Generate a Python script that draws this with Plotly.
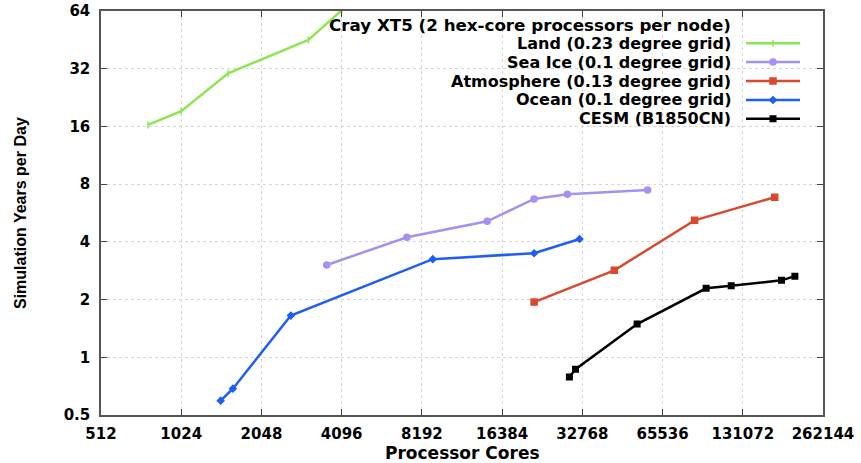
import plotly.graph_objects as go
import math

# ---- data ----
land_x = [768, 1024, 1536, 3072, 4096]
land_y = [16.3, 19.2, 30.3, 45.2, 64.5]

seaice_x = [3600, 7200, 14400, 21600, 28800, 57600]
seaice_y = [3.03, 4.23, 5.12, 6.7, 7.09, 7.46]

atm_x = [21600, 43200, 86400, 172800]
atm_y = [1.94, 2.84, 5.18, 6.84]

ocean_x = [1440, 1600, 2640, 9000, 21600, 32000]
ocean_y = [0.594, 0.686, 1.65, 3.25, 3.49, 4.14]

cesm_x = [29300, 30900, 52600, 95500, 118600, 183200, 205600]
cesm_y = [0.79, 0.866, 1.49, 2.29, 2.36, 2.52, 2.65]

x_ticks = [512, 1024, 2048, 4096, 8192, 16384, 32768, 65536, 131072, 262144]
y_ticks = [0.5, 1, 2, 4, 8, 16, 32, 64]
y_ticktext = ["0.5", "1", "2", "4", "8", "16", "32", "64"]

legend_title = "Cray XT5 (2 hex-core processors per node)"
series = [
    ("Land (0.23 degree grid)", land_x, land_y, "#8ee553", "line-ns", 5),
    ("Sea Ice (0.1 degree grid)", seaice_x, seaice_y, "#a690f2", "circle", 6),
    ("Atmosphere (0.13 degree grid)", atm_x, atm_y, "#d84a2f", "square", 6),
    ("Ocean (0.1 degree grid)", ocean_x, ocean_y, "#1f5ef5", "diamond", 5),
    ("CESM (B1850CN)", cesm_x, cesm_y, "#000000", "square", 5.5),
]

W, H = 861, 463
ML, MR, MT, MB = 101, 38, 11, 48
PW, PH = W - ML - MR, H - MT - MB

def px_x(p):
    return (p - ML) / PW

def px_y(p):
    return (H - MB - p) / PH

fig = go.Figure()
for name, xs, ys, col, sym, sz in series:
    fig.add_trace(go.Scatter(
        x=xs, y=ys, mode="lines+markers", name=name,
        line=dict(color=col, width=2.5),
        marker=dict(color=col, symbol=sym, size=sz,
                    line=dict(color=col, width=1.5)),
        cliponaxis=True, showlegend=False,
    ))

# manual legend (text right, sample on right side) on an overlay axis
legend_rows_px = [43.3, 62, 81, 100, 118.7]
ann = []
ann.append(dict(text=legend_title, x=px_x(733), y=px_y(25), xref="paper", yref="paper",
                xanchor="right", yanchor="middle", showarrow=False,
                font=dict(family="DejaVu Sans", size=16.7, color="black", weight="bold")))
for (name, xs, ys, col, sym, sz), ry in zip(series, legend_rows_px):
    ann.append(dict(text=name, x=px_x(733), y=px_y(ry), xref="paper", yref="paper",
                    xanchor="right", yanchor="middle", showarrow=False,
                    font=dict(family="DejaVu Sans", size=16, color="black", weight="bold")))
    fig.add_trace(go.Scatter(
        x=[px_x(746), px_x(773), px_x(800)], y=[px_y(ry)] * 3,
        xaxis="x2", yaxis="y2", mode="lines",
        line=dict(color=col, width=2.5), showlegend=False, hoverinfo="skip"))
    fig.add_trace(go.Scatter(
        x=[px_x(773)], y=[px_y(ry)],
        xaxis="x2", yaxis="y2", mode="markers",
        marker=dict(color=col, symbol=sym, size=sz, line=dict(color=col, width=1.5)),
        showlegend=False, hoverinfo="skip"))

# x title / y title
ann.append(dict(text="Processor Cores", x=px_x(462), y=px_y(453), xref="paper", yref="paper",
                xanchor="center", yanchor="middle", showarrow=False,
                font=dict(family="DejaVu Sans", size=17, color="black", weight="bold")))
ann.append(dict(text="Simulation Years per Day", x=px_x(20), y=px_y(213), xref="paper", yref="paper",
                xanchor="center", yanchor="middle", showarrow=False, textangle=-90,
                font=dict(family="Liberation Sans", size=16, color="black", weight="bold")))

tickfont = dict(family="DejaVu Sans", size=15, color="black", weight="bold")
grid = dict(showgrid=True, gridcolor="#d6d6d6", gridwidth=1, griddash="dot")

fig.update_layout(
    template="none",
    width=W, height=H,
    margin=dict(l=ML, r=MR, t=MT, b=MB, autoexpand=False),
    paper_bgcolor="white", plot_bgcolor="white",
    showlegend=False,
    annotations=ann,
    shapes=[dict(type="rect", xref="paper", yref="paper",
                 x0=px_x(248), x1=1.0, y0=px_y(128), y1=1.0,
                 fillcolor="white", line=dict(width=0), layer="between")],
    xaxis=dict(type="log", range=[math.log10(512), math.log10(262144)],
               tickvals=x_ticks, ticktext=[str(v) for v in x_ticks],
               ticks="inside", ticklen=6, tickcolor="#444", tickwidth=1,
               showline=True, linecolor="#555", linewidth=1.5, mirror="ticks",
               tickfont=tickfont, ticklabelstandoff=4, zeroline=False,
               automargin=False, **grid),
    yaxis=dict(type="log", range=[math.log10(0.5), math.log10(64)],
               tickvals=y_ticks, ticktext=y_ticktext,
               ticks="inside", ticklen=6, tickcolor="#444", tickwidth=1,
               showline=True, linecolor="#555", linewidth=1.5, mirror="ticks",
               tickfont=tickfont, ticklabelstandoff=6, zeroline=False,
               automargin=False, **grid),
    xaxis2=dict(overlaying="x", range=[0, 1], visible=False, fixedrange=True),
    yaxis2=dict(overlaying="y", range=[0, 1], visible=False, fixedrange=True),
)

fig.write_html("out.html")
